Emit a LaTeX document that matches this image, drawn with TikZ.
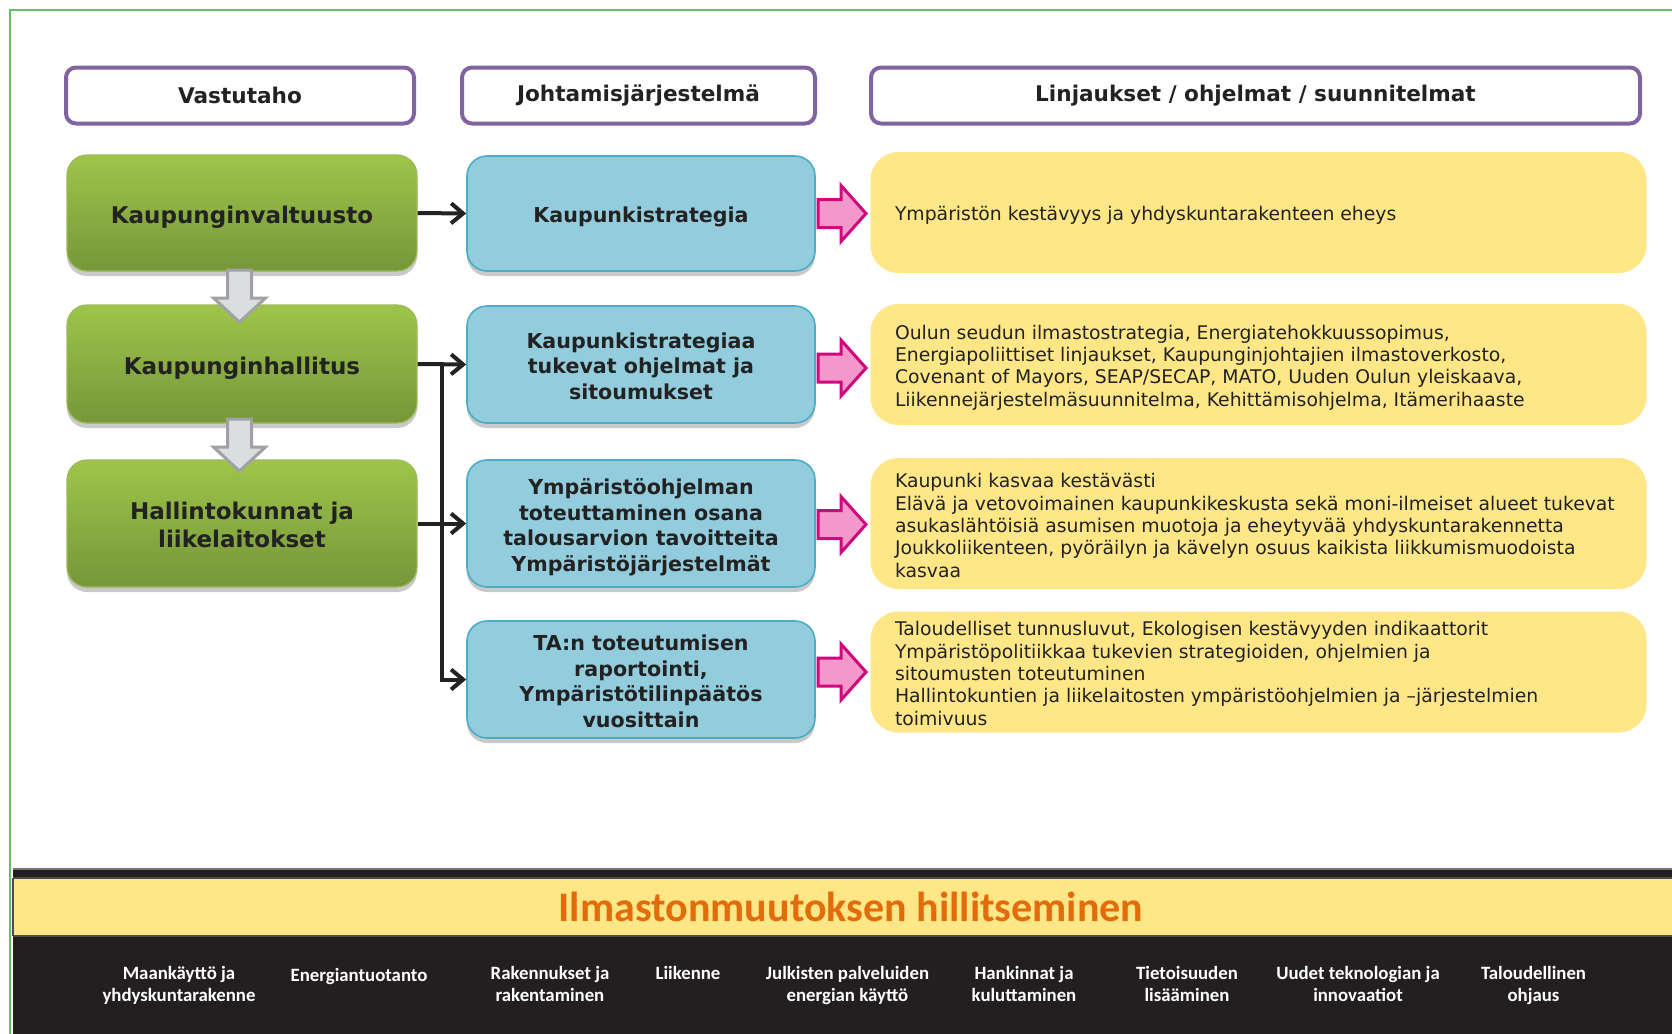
\documentclass[tikz,border=0pt]{standalone}
\usepackage{fontspec}
\setmainfont{DejaVu Sans}
\newfontfamily\carlito{Carlito}
\usetikzlibrary{shadows,calc,arrows.meta}
\definecolor{frameg}{HTML}{66BD6A}
\definecolor{purp}{HTML}{8064A2}
\definecolor{gtop}{HTML}{9EC54A}
\definecolor{gbot}{HTML}{76963A}
\definecolor{gbrd}{HTML}{9BBB59}
\definecolor{bfill}{HTML}{93CDDD}
\definecolor{bbrd}{HTML}{4BACC6}
\definecolor{yfill}{HTML}{FFE788}
\definecolor{pfill}{HTML}{F497CB}
\definecolor{pbrd}{HTML}{CC0A7D}
\definecolor{afill}{HTML}{DCDDDF}
\definecolor{abrd}{HTML}{A0A1A4}
\definecolor{txt}{HTML}{222222}
\definecolor{band}{HTML}{231F20}
\definecolor{orng}{HTML}{E36C0A}
\newcommand{\lowgreen}[1]{\raisebox{0pt}[\dimexpr\height+4.8pt\relax][\depth]{\begin{tabular}{@{}c@{}}#1\end{tabular}}}
\newcommand{\lowblue}[1]{\raisebox{0pt}[\dimexpr\height+4.3pt\relax][\depth]{\begin{tabular}{@{}c@{}}#1\end{tabular}}}
\tikzset{
  hdr/.style={draw=purp, line width=2pt, rounded corners=5pt, fill=white,
    minimum height=28pt, text=txt, font=\bfseries\fontsize{10.8pt}{12pt}\selectfont},
  gbox/.style={draw=gbrd, line width=0.6pt, rounded corners=10pt, top color=gtop, bottom color=gbot,
    minimum width=175pt, text=txt, inner ysep=0pt,
    font=\bfseries\fontsize{11.5pt}{13.9pt}\selectfont,
    drop shadow={shadow xshift=0pt, shadow yshift=-2.5pt, opacity=0.35, fill=black!60}},
  bbox/.style={draw=bbrd, line width=0.8pt, rounded corners=10pt, fill=bfill,
    minimum width=174pt, text=txt, inner ysep=0pt,
    font=\bfseries\fontsize{10.3pt}{12.8pt}\selectfont,
    drop shadow={shadow xshift=0pt, shadow yshift=-2.5pt, opacity=0.35, fill=black!60}},
  ybox/.style={fill=yfill, rounded corners=14pt, minimum width=388pt},
  ytext/.style={anchor=west, align=left, inner sep=0pt, text=txt,
    font=\fontsize{9.4pt}{11.2pt}\selectfont},
  conn/.style={line width=2pt, draw=txt, -{Straight Barb[length=6pt,width=10pt]}},
  plain/.style={line width=2pt, draw=txt},
  blab/.style={anchor=north, align=center, inner sep=0pt, text=white,
    font=\carlito\bfseries\fontsize{9.4pt}{10.9pt}\selectfont},
  pinkarrow/.pic={\draw[fill=pfill, draw=pbrd, line width=1.5pt, line join=miter]
    (-24,-14) -- (-1,-14) -- (-1,-28) -- (24,0) -- (-1,28) -- (-1,14) -- (-24,14) -- cycle;},
  grayarrow/.pic={\draw[fill=afill, draw=abrd, line width=1.5pt, line join=miter]
    (-12,1) -- (12,1) -- (12,29) -- (26,29) -- (0,53) -- (-26,29) -- (-12,29) -- cycle;}
}
\begin{document}
\begin{tikzpicture}[x=0.5pt,y=-0.5pt]
\useasboundingbox (0,0) rectangle (1672,1034);
\fill[white] (0,0) rectangle (1672,1034);
% frame
\draw[frameg, line width=1.1pt] (10,1040) -- (10,10) -- (1680,10);
% headers
\node[hdr, minimum width=174pt] (h1) at (240,95.5) {Vastutaho};
\node[hdr, minimum width=176.5pt] (h2) at (638.5,95.5) {Johtamisjärjestelmä};
\node[hdr, minimum width=384.5pt] (h3) at (1255.5,95.5) {Linjaukset / ohjelmat / suunnitelmat};
% green boxes
\node[gbox, minimum height=58pt] (g1) at (242,213) {\lowgreen{Kaupunginvaltuusto}};
\node[gbox, minimum height=59pt] (g2) at (242,364) {\lowgreen{Kaupunginhallitus}};
\node[gbox, minimum height=63.5pt] (g3) at (242,523.5) {\lowgreen{Hallintokunnat ja\\liikelaitokset}};
% blue boxes
\node[bbox, minimum height=57.5pt] (b1) at (641,213.5) {\lowblue{Kaupunkistrategia}};
\node[bbox, minimum height=58.5pt] (b2) at (641,364.5) {\lowblue{Kaupunkistrategiaa\\tukevat ohjelmat ja\\sitoumukset}};
\node[bbox, minimum height=63.5pt] (b3) at (641,523.5) {\lowblue{Ympäristöohjelman\\toteuttaminen osana\\talousarvion tavoitteita\\Ympäristöjärjestelmät}};
\node[bbox, minimum height=58.5pt] (b4) at (641,679.5) {\lowblue{TA:n toteutumisen\\raportointi,\\Ympäristötilinpäätös\\vuosittain}};
% yellow boxes
\node[ybox, minimum height=60.5pt] (y1) at (1258.5,212.5) {};
\node[ybox, minimum height=60.5pt] (y2) at (1258.5,364.5) {};
\node[ybox, minimum height=65.5pt] (y3) at (1258.5,523.5) {};
\node[ybox, minimum height=60.5pt] (y4) at (1258.5,672) {};
\node[ytext] (t1) at ($(y1.west)+(24.5,3)$) {Ympäristön kestävyys ja yhdyskuntarakenteen eheys};
\node[ytext] (t2) at ($(y2.west)+(24.5,3)$) {Oulun seudun ilmastostrategia, Energiatehokkuussopimus,\\Energiapoliittiset linjaukset, Kaupunginjohtajien ilmastoverkosto,\\Covenant of Mayors, SEAP/SECAP, MATO, Uuden Oulun yleiskaava,\\Liikennejärjestelmäsuunnitelma, Kehittämisohjelma, Itämerihaaste};
\node[ytext] (t3) at ($(y3.west)+(24.5,2)$) {Kaupunki kasvaa kestävästi\\Elävä ja vetovoimainen kaupunkikeskusta sekä moni-ilmeiset alueet tukevat\\asukaslähtöisiä asumisen muotoja ja eheytyvää yhdyskuntarakennetta\\Joukkoliikenteen, pyöräilyn ja kävelyn osuus kaikista liikkumismuodoista\\kasvaa};
\node[ytext] (t4) at ($(y4.west)+(24.5,1.5)$) {Taloudelliset tunnusluvut, Ekologisen kestävyyden indikaattorit\\Ympäristöpolitiikkaa tukevien strategioiden, ohjelmien ja\\sitoumusten toteutuminen\\Hallintokuntien ja liikelaitosten ympäristöohjelmien ja –järjestelmien\\toimivuus};
% pink arrows
\pic at (842,213.5) {pinkarrow};
\pic at (842,368) {pinkarrow};
\pic at (842,524.5) {pinkarrow};
\pic at (842,672) {pinkarrow};
% gray arrows
\pic at (239.5,269) {grayarrow};
\pic at (239.5,418) {grayarrow};
% black connectors
\coordinate (vt) at (442,364);
\coordinate (vb) at (442,679.5);
\draw[conn] (g1.east) -- (b1.west);
\draw[conn] (g2.east) -- (b2.west);
\draw[conn] (g3.east) -- (b3.west);
\draw[plain] ([yshift=1pt]vt) -- (vb);
\draw[conn] ([xshift=-1pt]vb) -- (b4.west);
% bottom band
\fill[band] (13,869) rectangle (1680,1040);
\draw[black!55, line width=0.8pt] (13,869) -- (1680,869);
\fill[yfill] (13,878) rectangle (1680,936);
\draw[black!70, line width=0.6pt] (13,878) -- (1680,878) (13,936) -- (1680,936) (13,878) -- (13,936);
\node[text=orng, font=\carlito\bfseries\fontsize{21pt}{24pt}\selectfont] (ttl) at (851,907) {Ilmastonmuutoksen hillitseminen};
\node[blab] (l1) at (179,966) {Maankäyttö ja\\yhdyskuntarakenne};
\node[blab] (l2) at (359,968) {Energiantuotanto};
\node[blab] (l3) at (550,966) {Rakennukset ja\\rakentaminen};
\node[blab] (l4) at (688,966) {Liikenne};
\node[blab] (l5) at (847.5,966) {Julkisten palveluiden\\energian käyttö};
\node[blab] (l6) at (1024,966) {Hankinnat ja\\kuluttaminen};
\node[blab] (l7) at (1187,966) {Tietoisuuden\\lisääminen};
\node[blab] (l8) at (1358,966) {Uudet teknologian ja\\innovaatiot};
\node[blab] (l9) at (1533.5,966) {Taloudellinen\\ohjaus};
\end{tikzpicture}
\end{document}
